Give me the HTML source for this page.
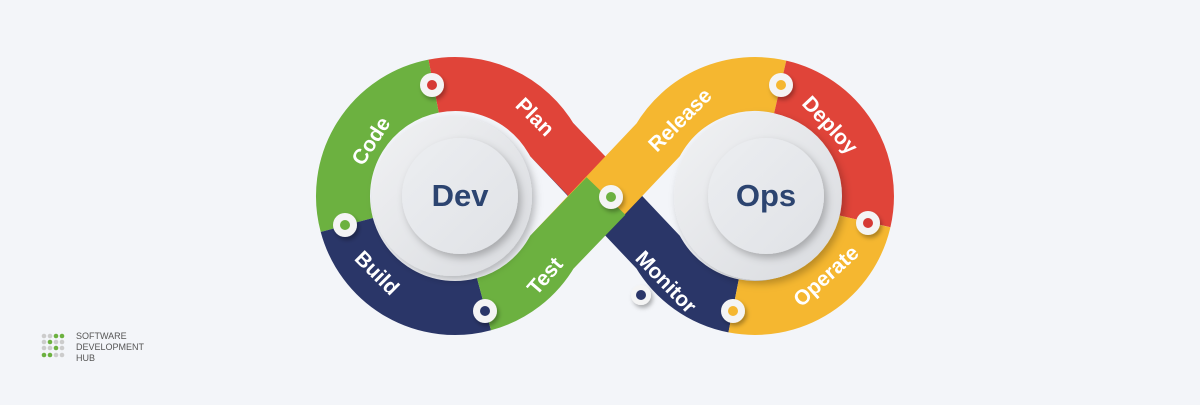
<!DOCTYPE html>
<html><head><meta charset="utf-8"><style>
body{margin:0;width:1200px;height:400px;background:#f3f5f9;overflow:hidden;font-family:"Liberation Sans",sans-serif}
</style></head><body>
<svg width="1200" height="400" viewBox="0 0 1200 400" xmlns="http://www.w3.org/2000/svg">
<defs>
<filter id="sh" x="-30%" y="-30%" width="160%" height="160%"><feDropShadow dx="3" dy="4" stdDeviation="4" flood-color="#000" flood-opacity="0.25"/></filter>
<filter id="sh2" x="-50%" y="-50%" width="200%" height="200%"><feDropShadow dx="2" dy="3" stdDeviation="2" flood-color="#000" flood-opacity="0.3"/></filter>
<linearGradient id="disc" x1="0" y1="0" x2="1" y2="1"><stop offset="0" stop-color="#f1f2f4"/><stop offset="1" stop-color="#d9dbdf"/></linearGradient>
<linearGradient id="disc2" x1="0" y1="0" x2="1" y2="1"><stop offset="0" stop-color="#eceef1"/><stop offset="1" stop-color="#e0e2e6"/></linearGradient>
</defs>
<g fill="none" stroke-width="54">
<path d="M733.6,305.9 A112,112 0 0 1 658,252 L552,140" stroke="#2a3668"/>
<path d="M433.6,86.1 A112,112 0 0 1 552,140 L606,196" stroke="#e04439"/>
<path d="M346.8,225 A112,112 0 0 1 433.6,86.1" stroke="#6cb140"/>
<path d="M484,304.2 A112,112 0 0 1 346.8,225" stroke="#2a3668"/>
<path d="M552,252 L658,140 A112,112 0 0 1 780.2,86.9" stroke="#f5b730"/>
<path d="M606,196 L552,252 A112,112 0 0 1 484,304.2" stroke="#6cb140"/>
<path d="M780.2,86.9 A112,112 0 0 1 864.1,221.2" stroke="#e04439"/>
<path d="M864.1,221.2 A112,112 0 0 1 733.6,305.9" stroke="#f5b730"/>
</g>
<circle cx="452" cy="196" r="80" fill="url(#disc)" filter="url(#sh)"/>
<circle cx="460" cy="196" r="58" fill="url(#disc2)" filter="url(#sh)"/>
<circle cx="758" cy="196" r="84" fill="url(#disc)" filter="url(#sh)"/>
<circle cx="766" cy="196" r="58" fill="url(#disc2)" filter="url(#sh)"/>
<g font-family="Liberation Sans, sans-serif" font-weight="bold" fill="#2c4470" text-anchor="middle" font-size="31">
<text x="460" y="206">Dev</text><text x="766" y="206">Ops</text>
</g>
<g font-family="Liberation Sans, sans-serif" font-weight="bold" fill="#fff" text-anchor="middle" font-size="21">
<text transform="translate(371,141) rotate(-57)" y="7">Code</text>
<text transform="translate(535,117) rotate(45)" y="7">Plan</text>
<text transform="translate(377,273) rotate(45)" y="7">Build</text>
<text transform="translate(545,276) rotate(-49)" y="7">Test</text>
<text transform="translate(680,120) rotate(-45)" y="7">Release</text>
<text transform="translate(830,125) rotate(47)" y="7">Deploy</text>
<text transform="translate(826,276) rotate(-42)" y="7">Operate</text>
<text transform="translate(666,282) rotate(46)" y="7">Monitor</text>
</g>
<g filter="url(#sh2)">
<circle cx="432" cy="85" r="12" fill="#f4f4f4"/><circle cx="345" cy="225" r="12" fill="#f4f4f4"/>
<circle cx="485" cy="311" r="12" fill="#f4f4f4"/><circle cx="611" cy="197" r="12" fill="#f4f4f4"/>
<circle cx="781" cy="85" r="12" fill="#f4f4f4"/><circle cx="868" cy="223" r="12" fill="#f4f4f4"/>
<circle cx="733" cy="311" r="12" fill="#f4f4f4"/><circle cx="641" cy="295" r="10" fill="#f4f4f4"/>
</g>
<circle cx="432" cy="85" r="5" fill="#d63a35"/><circle cx="345" cy="225" r="5" fill="#6cb140"/>
<circle cx="485" cy="311" r="5" fill="#2a3668"/><circle cx="611" cy="197" r="5" fill="#6cb140"/>
<circle cx="781" cy="85" r="5" fill="#f5b730"/><circle cx="868" cy="223" r="5" fill="#d63a35"/>
<circle cx="733" cy="311" r="5" fill="#f5b730"/><circle cx="641" cy="295" r="5" fill="#2a3668"/>
<g>
<circle cx="44" cy="336" r="2.3" fill="#ccc"/><circle cx="50" cy="336" r="2.3" fill="#ccc"/><circle cx="56" cy="336" r="2.3" fill="#6cb140"/><circle cx="62" cy="336" r="2.3" fill="#6cb140"/>
<circle cx="44" cy="342" r="2.3" fill="#ccc"/><circle cx="50" cy="342" r="2.3" fill="#6cb140"/><circle cx="56" cy="342" r="2.3" fill="#ccc"/><circle cx="62" cy="342" r="2.3" fill="#ccc"/>
<circle cx="44" cy="348" r="2.3" fill="#ccc"/><circle cx="50" cy="348" r="2.3" fill="#ccc"/><circle cx="56" cy="348" r="2.3" fill="#6cb140"/><circle cx="62" cy="348" r="2.3" fill="#ccc"/>
<circle cx="44" cy="355" r="2.3" fill="#6cb140"/><circle cx="50" cy="355" r="2.3" fill="#6cb140"/><circle cx="56" cy="355" r="2.3" fill="#ccc"/><circle cx="62" cy="355" r="2.3" fill="#ccc"/>
</g>
<g font-family="Liberation Sans, sans-serif" font-size="9" fill="#555">
<text x="76" y="339">SOFTWARE</text><text x="76" y="350">DEVELOPMENT</text><text x="76" y="361">HUB</text>
</g>
</svg>
</body></html>
